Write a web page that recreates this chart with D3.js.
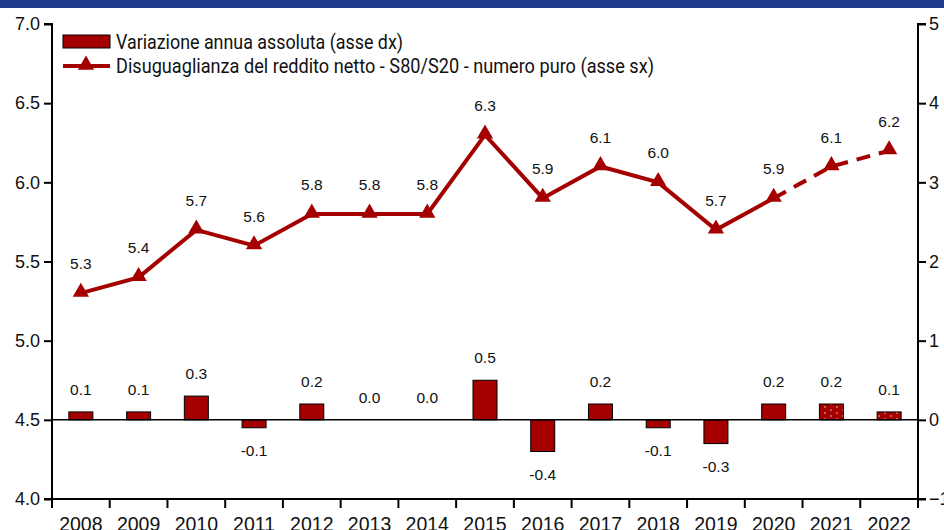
<!DOCTYPE html>
<html>
<head>
<meta charset="utf-8">
<script src="https://cdn.jsdelivr.net/npm/d3@7"></script>
<style>
  html, body { margin: 0; padding: 0; background: #fff; }
  svg { display: block; }
  .tick text { font-family: "Liberation Sans", Arial, sans-serif; }
</style>
</head>
<body>
<svg id="chart" width="944" height="530"></svg>
<script>
// Anni
const years = ["2008","2009","2010","2011","2012","2013","2014","2015","2016","2017","2018","2019","2020","2021","2022"];
// Disuguaglianza del reddito netto S80/S20 (asse sx)
const ratio = [5.3, 5.4, 5.7, 5.6, 5.8, 5.8, 5.8, 6.3, 5.9, 6.1, 6.0, 5.7, 5.9, 6.1, 6.2];
// Variazione annua assoluta (asse dx)
const change = [0.1, 0.1, 0.3, -0.1, 0.2, 0.0, 0.0, 0.5, -0.4, 0.2, -0.1, -0.3, 0.2, 0.2, 0.1];
// Anni stimati (linea tratteggiata, barre puntinate)
const estimated = ["2021", "2022"];
const leftTicks = [4.0, 4.5, 5.0, 5.5, 6.0, 6.5, 7.0];
const rightTicks = [-1, 0, 1, 2, 3, 4, 5];
const legendLabels = ["Variazione annua assoluta (asse dx)", "Disuguaglianza del reddito netto - S80/S20 - numero puro (asse sx)"];

const red = "#a50000";
const svg = d3.select("#chart");
const m = { left: 52, right: 918, top: 24, bottom: 499 };

// banda superiore
svg.append("rect").attr("x", 0).attr("y", 0).attr("width", 944).attr("height", 8).attr("fill", "#1f3c8f");

const xb = d3.scaleBand().domain(years).range([m.left, m.right]);
const yL = d3.scaleLinear().domain([4.0, 7.0]).range([m.bottom, m.top]);
const yR = d3.scaleLinear().domain([-1, 5]).range([m.bottom, m.top]);

const defs = svg.append("defs");
const pat = defs.append("pattern").attr("id", "dots").attr("patternUnits", "userSpaceOnUse")
  .attr("width", 12).attr("height", 6);
pat.append("rect").attr("width", 12).attr("height", 6).attr("fill", red);
pat.append("circle").attr("cx", 3).attr("cy", 2).attr("r", 0.7).attr("fill", "#fff");
pat.append("circle").attr("cx", 9).attr("cy", 5).attr("r", 0.7).attr("fill", "#fff");

// barre
svg.append("g").selectAll("rect").data(years).join("rect")
  .attr("x", d => xb(d) + (xb.bandwidth() - 24) / 2)
  .attr("width", 24)
  .attr("y", (d, i) => yR(Math.max(0, change[i])))
  .attr("height", (d, i) => Math.abs(yR(change[i]) - yR(0)))
  .attr("fill", d => estimated.includes(d) ? "url(#dots)" : red)
  .attr("stroke", "#000").attr("stroke-width", 1)
  .attr("display", (d, i) => change[i] === 0 ? "none" : null);

// linea dello zero (asse dx)
svg.append("line").attr("x1", m.left).attr("x2", m.right)
  .attr("y1", yR(0)).attr("y2", yR(0)).attr("stroke", "#000").attr("stroke-width", 1.5);

// etichette barre
svg.append("g").selectAll("text").data(years).join("text")
  .attr("x", d => xb(d) + xb.bandwidth() / 2)
  .attr("y", (d, i) => change[i] > 0 ? yR(change[i]) - 17 : change[i] < 0 ? yR(change[i]) + 28 : yR(0) - 17)
  .attr("text-anchor", "middle")
  .attr("font-family", "Liberation Sans, Arial, sans-serif").attr("font-size", 15.5).attr("fill", "#111")
  .text((d, i) => change[i].toFixed(1));

// linea
const cx = d => xb(d) + xb.bandwidth() / 2;
const pts = years.map((d, i) => [cx(d), yL(ratio[i])]);
const line = d3.line();
const splitIdx = years.indexOf("2020");
svg.append("path").attr("d", line(pts.slice(0, splitIdx + 1)))
  .attr("fill", "none").attr("stroke", red).attr("stroke-width", 4).attr("stroke-linejoin", "miter");
svg.append("path").attr("d", line(pts.slice(splitIdx)))
  .attr("fill", "none").attr("stroke", red).attr("stroke-width", 4).attr("stroke-dasharray", "14,9");

const tri = d3.symbol().type(d3.symbolTriangle).size(115);
svg.append("g").selectAll("path").data(years).join("path")
  .attr("transform", (d, i) => `translate(${pts[i][0]},${pts[i][1] - 1})`)
  .attr("d", tri).attr("fill", red);

svg.append("g").selectAll("text").data(years).join("text")
  .attr("x", d => cx(d))
  .attr("y", (d, i) => yL(ratio[i]) - 24)
  .attr("text-anchor", "middle")
  .attr("font-family", "Liberation Sans, Arial, sans-serif").attr("font-size", 15.5).attr("fill", "#111")
  .text((d, i) => ratio[i].toFixed(1));

// assi
const axL = svg.append("g").attr("transform", `translate(${m.left},0)`)
  .call(d3.axisLeft(yL).tickValues(leftTicks).tickFormat(d3.format(".1f")).tickSize(8).tickPadding(4));
const axR = svg.append("g").attr("transform", `translate(${m.right},0)`)
  .call(d3.axisRight(yR).tickValues(rightTicks).tickFormat(d3.format("d")).tickSize(8).tickPadding(3));
const axB = svg.append("g").attr("transform", `translate(0,${m.bottom})`)
  .call(d3.axisBottom(xb).tickSize(0).tickPadding(18));
[axL, axR, axB].forEach(a => {
  a.select(".domain").attr("stroke", "#000").attr("stroke-width", 2);
  a.selectAll(".tick line").attr("stroke", "#000").attr("stroke-width", 2);
  a.selectAll(".tick text").attr("font-size", 18).attr("fill", "#111");
});
axB.selectAll(".tick text").attr("font-size", 19.5);
axL.select(".domain").attr("d", `M-8,${m.top}H0V${m.bottom}H-8`);
axR.select(".domain").attr("d", `M8,${m.top}H0V${m.bottom}H8`);
axB.select(".domain").attr("d", `M${m.left},0H${m.right}`);
// tacche tra le categorie
svg.append("g").selectAll("line").data(years.concat(["end"])).join("line")
  .attr("x1", (d, i) => m.left + i * xb.step()).attr("x2", (d, i) => m.left + i * xb.step())
  .attr("y1", m.bottom).attr("y2", m.bottom + 9)
  .attr("stroke", "#000").attr("stroke-width", 2);

// legenda
const lg = svg.append("g").attr("font-family", "Roboto, 'Liberation Sans', sans-serif")
  .attr("font-size", 20).attr("fill", "#111");
lg.append("rect").attr("x", 63).attr("y", 35).attr("width", 47).attr("height", 13)
  .attr("fill", red).attr("stroke", "#000").attr("stroke-width", 1);
lg.append("text").attr("x", 116).attr("y", 49).attr("textLength", 287).attr("lengthAdjust", "spacingAndGlyphs").text(legendLabels[0]);
lg.append("line").attr("x1", 63).attr("x2", 110).attr("y1", 66).attr("y2", 66)
  .attr("stroke", red).attr("stroke-width", 4);
lg.append("path").attr("transform", "translate(86,65)").attr("d", tri).attr("fill", red);
lg.append("text").attr("x", 116).attr("y", 73).attr("textLength", 538).attr("lengthAdjust", "spacingAndGlyphs").text(legendLabels[1]);
</script>
</body>
</html>
